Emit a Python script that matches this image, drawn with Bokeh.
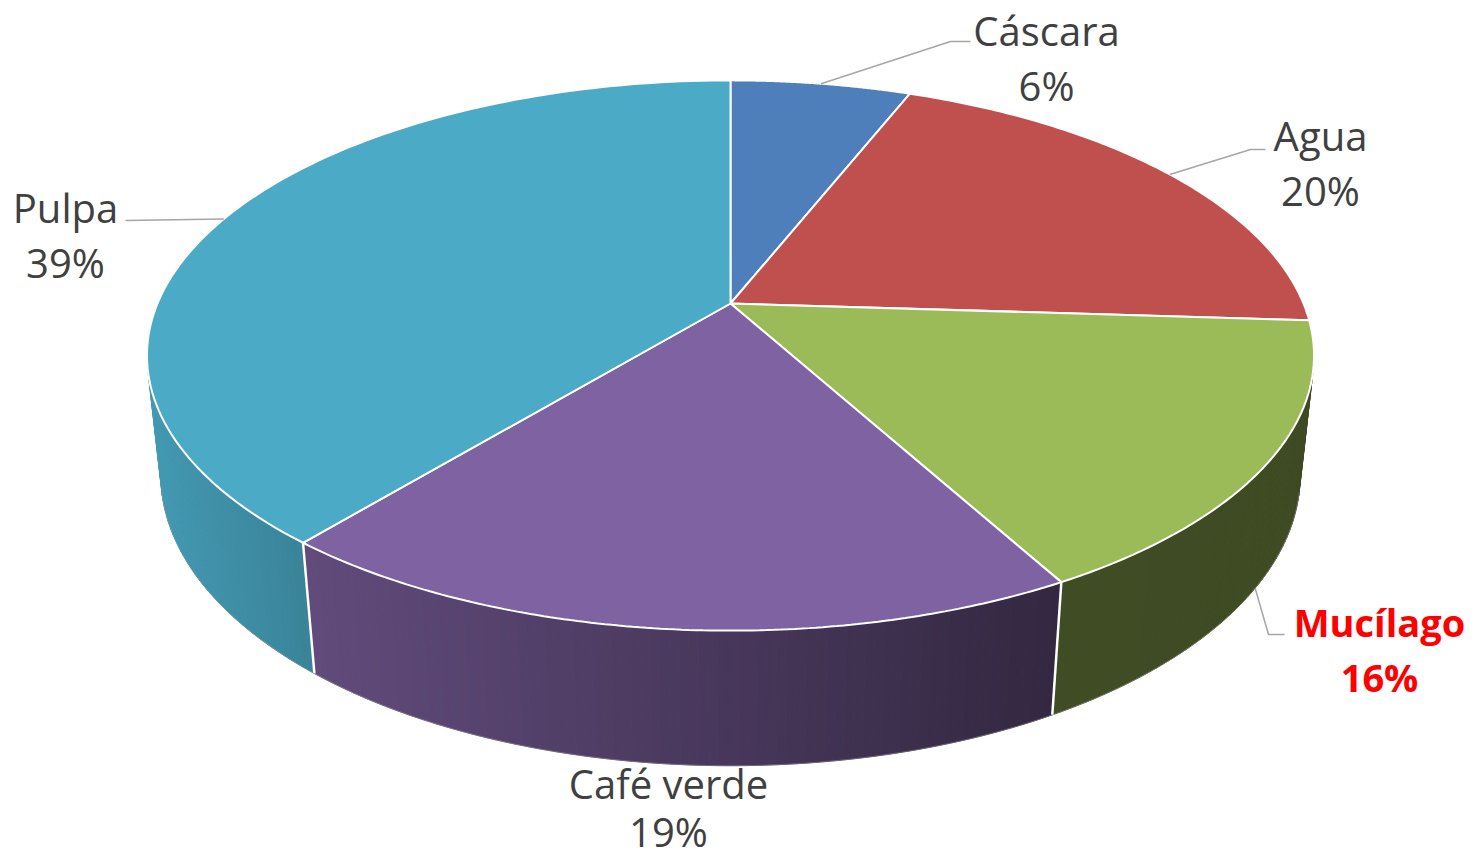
import numpy as np
from bokeh.plotting import figure
from bokeh.models import Range1d, ColumnDataSource
from bokeh.core.properties import value
from bokeh.embed import file_html
from bokeh.resources import INLINE

# ---- data ----
categories = ["Cáscara", "Agua", "Mucílago", "Café verde", "Pulpa"]
values = [6, 20, 16, 19, 39]
pct_labels = ["6%", "20%", "16%", "19%", "39%"]
top_colors = ["#4F7FBA", "#C0504D", "#9BBB59", "#7F62A1", "#4BAAC6"]
label_colors = ["#404040", "#404040", "#FF0000", "#404040", "#404040"]
label_weights = ["normal", "normal", "bold", "normal", "normal"]
label_sizes = ["40px", "40px", "38px", "40px", "40px"]

# ---- layout / projection constants ----
CX, CY = 730.0, 303.0
KP = 573.0
DIST = 4.69
SA = 0.463
CA = np.sqrt(1 - SA ** 2)
H = 0.237
FONT = "Open Sans"
W, HT = 1472, 859
label_pos = {  # centre of first text line, line gap
    "Cáscara": (1046, 30, 55),
    "Agua": (1320, 135, 55),
    "Mucílago": (1379, 621, 55),
    "Café verde": (668, 783, 48),
    "Pulpa": (65, 207, 55),
}
leader_elbow = {
    "Cáscara": [(950, 41), (970, 41)],
    "Agua": [(1250, 149), (1265, 149)],
    "Mucílago": [(1268, 634), (1284, 634)],
    "Pulpa": [(125, 220)],
}


def proj(theta_deg, level):
    t = np.radians(theta_deg)
    u, v = np.sin(t), np.cos(t)
    Y = -H * level
    depth = -Y * SA + DIST + v * CA
    up = Y * CA + v * SA
    return CX + KP * DIST * u / depth, CY - KP * DIST * up / depth


def rgb(hexc):
    hexc = hexc.lstrip("#")
    return [int(hexc[i:i + 2], 16) for i in (0, 2, 4)]


def shade(hexc, f):
    r, g, b = rgb(hexc)
    return "#%02x%02x%02x" % (int(r * f), int(g * f), int(b * f))


p = figure(width=W, height=HT, output_backend="svg", toolbar_location=None,
           x_range=Range1d(0, W), y_range=Range1d(HT, 0), min_border=0)
p.axis.visible = False
p.grid.visible = False
p.outline_line_color = None
p.background_fill_color = "white"

total = float(sum(values))
starts = np.concatenate([[0], np.cumsum(values)[:-1]]) / total * 360
ends = np.cumsum(values) / total * 360

# visible wall range
th_vis = np.degrees(np.arccos(-1.0 / (DIST * CA)))
vis_lo, vis_hi = th_vis, 360 - th_vis

# side walls
wx, wy, wc = [], [], []
for s, e, col in zip(starts, ends, top_colors):
    a0, a1 = max(s, vis_lo), min(e, vis_hi)
    if a1 <= a0:
        continue
    n = max(2, int((a1 - a0) / 0.8))
    ts = np.linspace(a0, a1, n + 1)
    for t0, t1 in zip(ts[:-1], ts[1:]):
        x0t, y0t = proj(t0, 0)
        x1t, y1t = proj(t1, 0)
        x0b, y0b = proj(t0, 1)
        x1b, y1b = proj(t1, 1)
        xm = (x0t + x1t) / 2
        f = np.interp(xm, [150, 320, 700, 1050, 1320], [0.90, 0.76, 0.58, 0.41, 0.40])
        c = shade(col, f)
        wx.append([x0t, x1t, x1b, x0b])
        wy.append([y0t, y1t, y1b, y0b])
        wc.append(c)
p.patches(wx, wy, fill_color=wc, line_color=wc, line_width=1)

# wall separators
for b in ends:
    if vis_lo < b < vis_hi:
        xt, yt = proj(b, 0)
        xb, yb = proj(b, 1)
        p.line([xt, xb], [yt, yb], line_color="white", line_width=2.5)

# bottom silhouette thin outline
tb = np.linspace(vis_lo, vis_hi, 200)
bx, by = proj(tb, 1)
p.line(bx, by, line_color="#9a9a9a", line_width=0.8, line_alpha=0.6)

# top faces
txs, tys = [], []
for s, e in zip(starts, ends):
    ts = np.linspace(s, e, 120)
    ax, ay = proj(ts, 0)
    txs.append([CX] + list(ax))
    tys.append([CY] + list(ay))
p.patches(txs, tys, fill_color=top_colors, line_color="white", line_width=2)

# leader lines
for cat, s, e in zip(categories, starts, ends):
    if cat not in leader_elbow:
        continue
    mid = (s + e) / 2
    level = 1 if vis_lo < mid < vis_hi else 0
    ax, ay = proj(mid, level)
    pts = [(ax, ay)] + leader_elbow[cat]
    p.line([q[0] for q in pts], [q[1] for q in pts], line_color="#a6a6a6", line_width=1.5)

# labels
for cat, pct, lc, lw, fs in zip(categories, pct_labels, label_colors, label_weights, label_sizes):
    x, y, gap = label_pos[cat]
    src = ColumnDataSource(dict(x=[x, x], y=[y, y + gap], t=[cat, pct]))
    p.text("x", "y", text="t", source=src, text_align="center", text_baseline="middle",
           text_font=value(FONT), text_font_size=fs, text_color=lc, text_font_style=lw)

open("out.html", "w").write(file_html(p, INLINE))
